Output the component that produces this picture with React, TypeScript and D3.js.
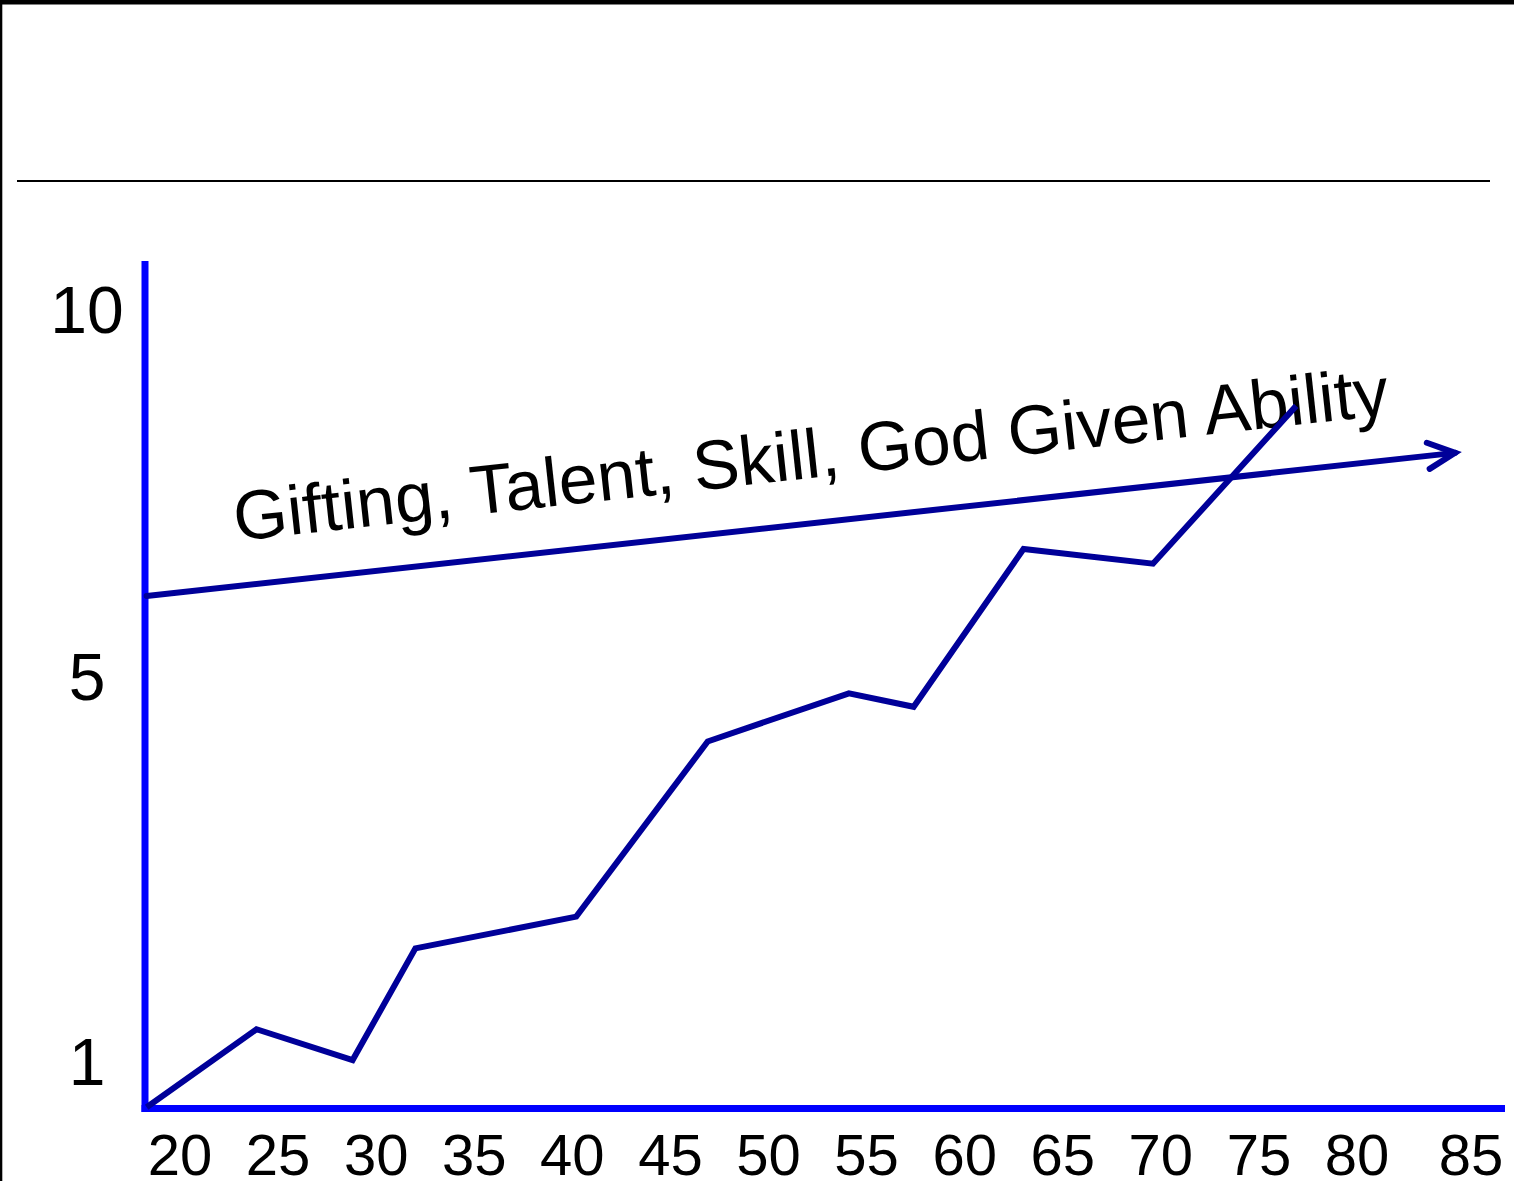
import React from "react";
import * as d3 from "d3";

// ---- data ----
const ages = [18.3, 23.9, 28.8, 32.0, 40.2, 46.9, 54.1, 57.4, 63.0, 69.6, 76.9];
const levels = [0.52, 1.33, 1.01, 2.17, 2.5, 4.32, 4.82, 4.68, 6.73, 6.53, 8.68];
const xTickLabels = [20, 25, 30, 35, 40, 45, 50, 55, 60, 65, 70, 75, 80, 85];
const yTickLabels = [10, 5, 1];
const giftStart = [18.3, 6.09];
const giftEnd = [84.3, 8.04];
const giftLabel = "Gifting, Talent, Skill, God Given Ability";
const giftLabelAnchor = [22.85, 6.84];

const W = 1514;
const H = 1181;
const FONT = "'Liberation Sans', Arial, Helvetica, sans-serif";
const NAVY = "#000099";
const BLUE = "#0000FF";

export default function App() {
  const x = d3.scaleLinear().domain([20, 80, 85]).range([180, 1357, 1471]);
  const y = d3.scaleLinear().domain([1, 5, 10]).range([1061, 676, 309]);

  const axisX = 145;
  const axisY = 1108.5;
  const axisTop = 261;
  const axisRight = 1505;

  const line = d3
    .line<number>()
    .x((_, i) => x(ages[i]))
    .y((_, i) => y(levels[i]));

  const sx = x(giftStart[0]);
  const sy = y(giftStart[1]);
  const ex = x(giftEnd[0]);
  const ey = y(giftEnd[1]);
  const ang = Math.atan2(ey - sy, ex - sx);
  const wingLen = 30;
  const half = (26 * Math.PI) / 180;
  const back = ang + Math.PI;
  const w1 = [ex + wingLen * Math.cos(back - half), ey + wingLen * Math.sin(back - half)];
  const w2 = [ex + wingLen * Math.cos(back + half), ey + wingLen * Math.sin(back + half)];
  const labelAngle = (ang * 180) / Math.PI;
  const lx = x(giftLabelAnchor[0]);
  const ly = y(giftLabelAnchor[1]);

  return (
    <svg
      width={W}
      height={H}
      style={{ position: "absolute", left: 0, top: 0, background: "#fff" }}
      fontFamily={FONT}
    >
      <rect x={0} y={0} width={W} height={H} fill="#fff" />
      {/* frame */}
      <rect x={0} y={0} width={W} height={4.5} fill="#000" />
      <rect x={0} y={0} width={2.3} height={H} fill="#000" />
      <line x1={17} x2={1490} y1={181} y2={181} stroke="#000" strokeWidth={2} />

      {/* axes */}
      <line x1={axisX} x2={axisX} y1={axisTop} y2={axisY + 3.5} stroke={BLUE} strokeWidth={7} />
      <line x1={axisX - 3.5} x2={axisRight} y1={axisY} y2={axisY} stroke={BLUE} strokeWidth={7} />

      {/* y tick labels */}
      {yTickLabels.map((v) => (
        <text key={v} x={87} y={y(v)} dy="0.358em" fontSize={66} textAnchor="middle" fill="#000">
          {v}
        </text>
      ))}

      {/* x tick labels */}
      {xTickLabels.map((v) => (
        <text key={v} x={x(v)} y={1175} fontSize={58} textAnchor="middle" fill="#000">
          {v}
        </text>
      ))}

      {/* gifting arrow */}
      <line x1={sx} y1={sy} x2={ex} y2={ey} stroke={NAVY} strokeWidth={6} strokeLinecap="round" />
      <polyline
        points={`${w1[0]},${w1[1]} ${ex},${ey} ${w2[0]},${w2[1]}`}
        fill="none"
        stroke={NAVY}
        strokeWidth={6}
        strokeLinecap="round"
        strokeLinejoin="miter"
      />
      <text
        x={lx}
        y={ly}
        fontSize={69.5}
        fill="#000"
        transform={`rotate(${labelAngle} ${lx} ${ly})`}
      >
        {giftLabel}
      </text>

      {/* growth line */}
      <path
        d={line(ages) || ""}
        fill="none"
        stroke={NAVY}
        strokeWidth={6}
        strokeLinejoin="miter"
      />
    </svg>
  );
}
